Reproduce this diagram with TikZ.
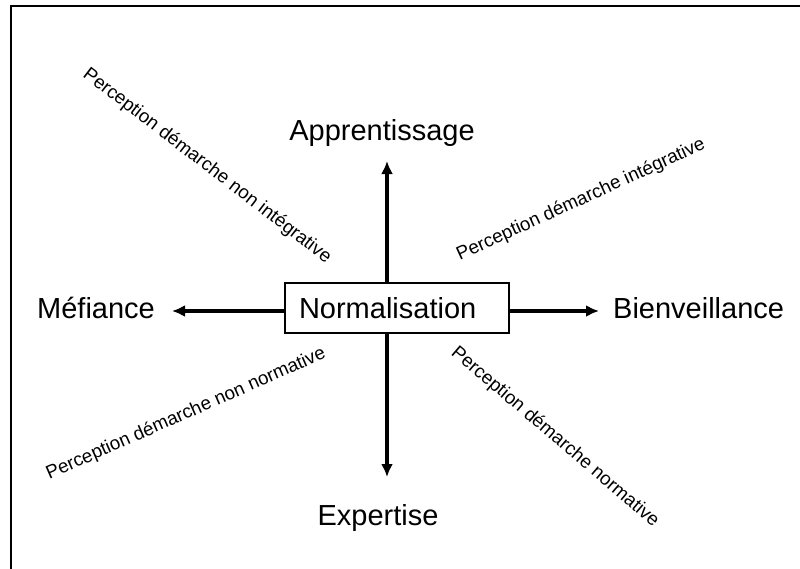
\documentclass[tikz,border=0pt]{standalone}
\usepackage{fontspec}
\setmainfont{Liberation Sans}
\usetikzlibrary{arrows.meta}
\begin{document}
\begin{tikzpicture}[x=1pt,y=-1pt,
  big/.style={font=\fontsize{29}{33}\selectfont, inner sep=0pt},
  small/.style={font=\fontsize{18.8}{22}\selectfont, inner sep=0pt},
  arr/.style={line width=3.2pt, -{Latex[length=13pt,width=12pt]}},
  boxst/.style={draw, line width=1.5pt, fill=white, minimum width=224pt, minimum height=50pt, text width=196pt, align=left, inner xsep=14pt, inner ysep=0pt, font=\fontsize{29}{33}\selectfont}]
\useasboundingbox (0,0) rectangle (800,568);
\fill[white] (0,0) rectangle (800,568);
\draw[line width=2.4pt] (11,600) -- (11,6) -- (830,6);
\coordinate (tN) at (387,161);
\coordinate (tS) at (387,477);
\coordinate (tW) at (172,311);
\coordinate (tE) at (599,311);
\node[boxst] (box) at (397,308) {Normalisation};
\draw[arr] (box.north -| tN) -- (tN);
\draw[arr] (box.south -| tS) -- (tS);
\draw[arr] (box.west |- tW) -- (tW);
\draw[arr] (box.east |- tE) -- (tE);
\node[big, anchor=base] (app) at (382,140) {Apprentissage};
\node[big, anchor=base] (exp) at (378,525) {Expertise};
\node[big, anchor=base west] (mef) at (37,318) {Méfiance};
\node[big, anchor=base west] (bie) at (613,318) {Bienveillance};
\node[small, rotate=-37.5] (pni) at (207,166) {Perception démarche non intégrative};
\node[small, rotate=24.5] (pi) at (581,200) {Perception démarche intégrative};
\node[small, rotate=23.8] (pnn) at (186,414) {Perception démarche non normative};
\node[small, rotate=-40.5] (pn) at (555,437) {Perception démarche normative};
\end{tikzpicture}
\end{document}
